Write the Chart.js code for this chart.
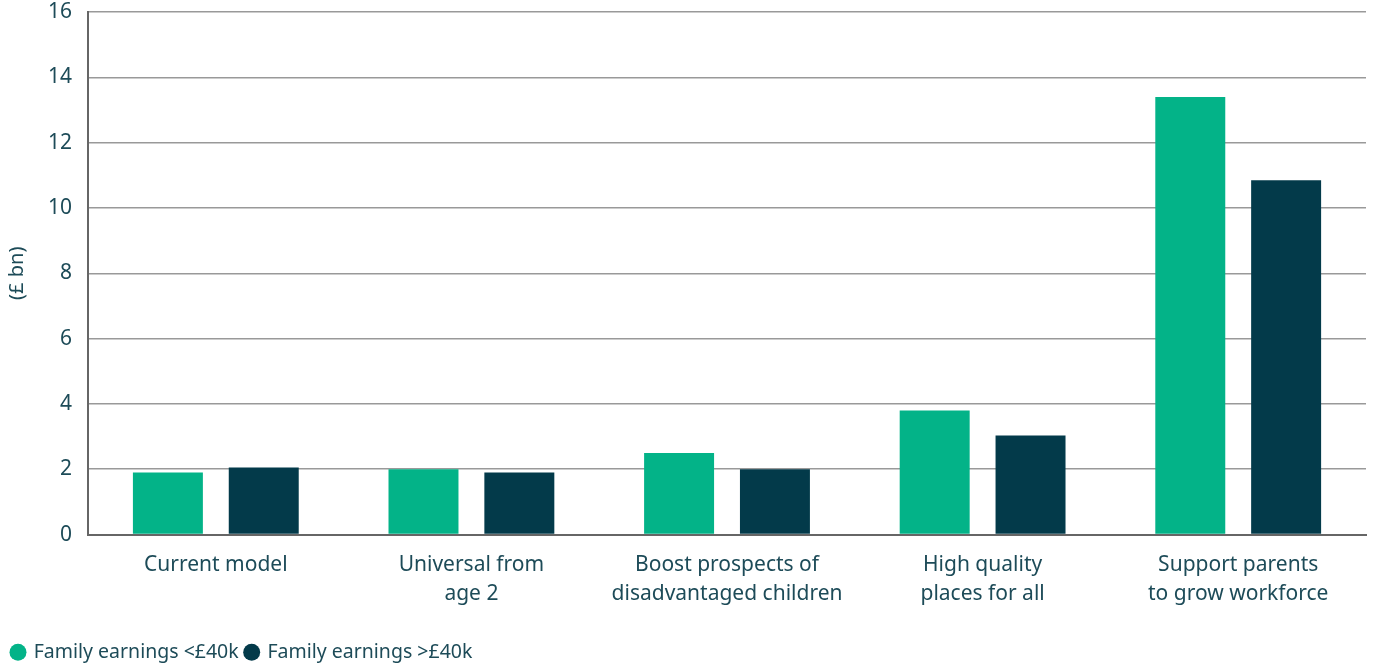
<!DOCTYPE html>
<html>
<head>
<meta charset="utf-8">
<script src="https://cdn.jsdelivr.net/npm/chart.js@4/dist/chart.umd.min.js"></script>
<style>
  html, body { margin: 0; padding: 0; background: #fff; }
  #wrap { width: 1375px; height: 666px; }
</style>
</head>
<body>
<div id="wrap"><canvas id="myChart"></canvas></div>
<script>
const categories = [
  ["Current model"],
  ["Universal from", "age 2"],
  ["Boost prospects of", "disadvantaged children"],
  ["High quality", "places for all"],
  ["Support parents", "to grow workforce"]
];
const lowEarnings = [1.9, 2.0, 2.5, 3.8, 13.4];
const highEarnings = [2.05, 1.9, 2.0, 3.03, 10.85];
const yTicks = [0, 2, 4, 6, 8, 10, 12, 14, 16];

const textColor = "#1d4b58";
const fontFamily = "'Noto Sans', sans-serif";

const info = {
  labels: categories,
  datasets: [
    {
      label: "Family earnings <£40k",
      data: lowEarnings,
      backgroundColor: "#03b388",
      barPercentage: 0.73,
      categoryPercentage: 0.75
    },
    {
      label: "Family earnings >£40k",
      data: highEarnings,
      backgroundColor: "#033a4a",
      barPercentage: 0.73,
      categoryPercentage: 0.75
    }
  ]
};

const options = {
  responsive: true,
  maintainAspectRatio: false,
  animation: false,
  layout: { padding: { left: 5, right: 9, top: 0, bottom: -6 } },
  scales: {
    x: {
      grid: { display: false, drawTicks: false },
      border: { color: "#666", width: 2 },
      ticks: {
        color: textColor,
        font: { family: fontFamily, size: 21, lineHeight: 1.38 },
        padding: 16,
        maxRotation: 0
      },
      // extra room between the category labels and the legend
      afterFit: (axis) => { axis.height += 11; }
    },
    y: {
      min: 0,
      max: 16,
      afterBuildTicks: (axis) => { axis.ticks = yTicks.map((v) => ({ value: v })); },
      // tick padding otherwise pushes the top of the plot down
      afterFit: (axis) => { axis.paddingTop = 12; },
      grid: { color: "#999", lineWidth: 1.5, drawTicks: false },
      border: { color: "#666", width: 2 },
      ticks: {
        color: textColor,
        font: { family: fontFamily, size: 21 },
        padding: 16
      },
      title: {
        display: true,
        text: "(£ bn)",
        color: textColor,
        font: { family: fontFamily, size: 20 },
        padding: { top: 0, bottom: 3 }
      }
    }
  },
  plugins: {
    legend: {
      position: "bottom",
      align: "start",
      labels: {
        usePointStyle: true,
        pointStyle: "circle",
        boxWidth: 12,
        boxHeight: 12,
        padding: 7,
        color: textColor,
        font: { family: fontFamily, size: 19.5 }
      }
    },
    tooltip: { enabled: false }
  }
};

const myChart = new Chart(document.getElementById("myChart"), {
  type: "bar",
  data: info,
  options
});
</script>
</body>
</html>
